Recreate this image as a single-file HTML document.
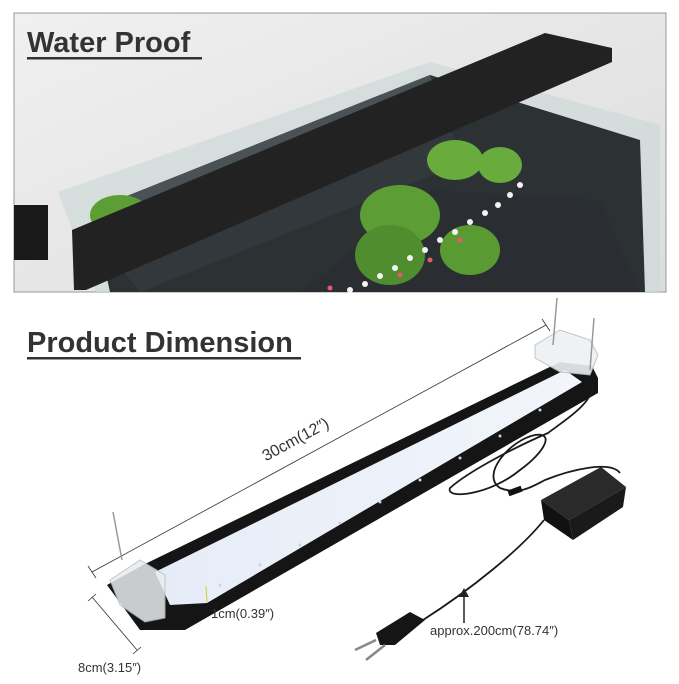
<!DOCTYPE html>
<html><head><meta charset="utf-8"><style>
html,body{margin:0;padding:0;background:#fff;}
body{width:679px;height:679px;overflow:hidden;font-family:"Liberation Sans",sans-serif;}
</style></head><body>
<svg width="679" height="679" viewBox="0 0 679 679" xmlns="http://www.w3.org/2000/svg">
<defs>
<linearGradient id="bg" x1="0" y1="0" x2="1" y2="1"><stop offset="0" stop-color="#f0f0f0"/><stop offset="1" stop-color="#dcdcdc"/></linearGradient>
<linearGradient id="panel" x1="0" y1="0" x2="1" y2="0"><stop offset="0" stop-color="#e6ecf7"/><stop offset="1" stop-color="#f2f5fb"/></linearGradient>
</defs>
<!-- top photo -->
<rect x="14" y="13" width="652" height="279" fill="url(#bg)" stroke="#999" stroke-width="1"/>
<polygon points="58,192 430,62 660,125 660,292 96,292" fill="#cfd9d8" opacity="0.7"/>
<polygon points="92,210 430,75 640,140 645,292 110,292" fill="#2c3134"/>
<polygon points="92,210 430,75 450,130 110,250" fill="#4a5256"/>
<polygon points="110,255 450,130 470,160 140,292" fill="#33383c"/>
<polygon points="300,292 430,190 600,200 640,292" fill="#2a2e33"/>
<ellipse cx="400" cy="215" rx="40" ry="30" fill="#5c9e35"/>
<ellipse cx="455" cy="160" rx="28" ry="20" fill="#6aab3d"/>
<ellipse cx="500" cy="165" rx="22" ry="18" fill="#6aab3d"/>
<ellipse cx="390" cy="255" rx="35" ry="30" fill="#4f8d2e"/>
<ellipse cx="470" cy="250" rx="30" ry="25" fill="#5a9a32"/>
<ellipse cx="120" cy="215" rx="30" ry="20" fill="#5c9e35"/>
<g fill="#f4f4f4">
<circle cx="520" cy="185" r="3"/><circle cx="510" cy="195" r="3"/><circle cx="498" cy="205" r="3"/><circle cx="485" cy="213" r="3"/><circle cx="470" cy="222" r="3"/><circle cx="455" cy="232" r="3"/><circle cx="440" cy="240" r="3"/><circle cx="425" cy="250" r="3"/><circle cx="410" cy="258" r="3"/><circle cx="395" cy="268" r="3"/><circle cx="380" cy="276" r="3"/><circle cx="365" cy="284" r="3"/><circle cx="350" cy="290" r="3"/>
</g>
<g fill="#e25a6a"><circle cx="460" cy="240" r="2.5"/><circle cx="430" cy="260" r="2.5"/><circle cx="400" cy="275" r="2.5"/><circle cx="330" cy="288" r="2.5"/></g>
<polygon points="72,230 545,33 612,48 612,62 86,290 74,290" fill="#222"/>
<rect x="14" y="205" width="34" height="55" fill="#1a1a1a"/>
<text x="27" y="52" font-size="29" font-weight="bold" fill="#333">Water Proof</text>
<rect x="27" y="57" width="175" height="2.5" fill="#333"/>

<!-- bottom -->
<text x="27" y="352" font-size="29" font-weight="bold" fill="#333">Product Dimension</text>
<rect x="27" y="357" width="274" height="2.5" fill="#333"/>

<line x1="92" y1="572" x2="546" y2="325" stroke="#333" stroke-width="0.8"/>
<line x1="88" y1="566" x2="96" y2="578" stroke="#333" stroke-width="0.8"/>
<line x1="542" y1="319" x2="550" y2="331" stroke="#333" stroke-width="0.8"/>
<text x="298" y="444" font-size="16" fill="#333" text-anchor="middle" transform="rotate(-28.5 298 444)">30cm(12″)</text>

<!-- bar -->
<polygon points="107,585 145,564 560,362 592,366 598,378 598,393 185,630 140,630" fill="#151515"/>
<polygon points="155,572 565,370 582,382 207,603 170,605" fill="url(#panel)"/>
<g fill="#c9d3e2">
<circle cx="220" cy="585" r="1.5"/><circle cx="260" cy="565" r="1.5"/><circle cx="300" cy="545" r="1.5"/><circle cx="340" cy="523" r="1.5"/><circle cx="380" cy="502" r="1.5"/><circle cx="420" cy="480" r="1.5"/><circle cx="460" cy="458" r="1.5"/><circle cx="500" cy="436" r="1.5"/><circle cx="540" cy="410" r="1.5"/>
</g>
<line x1="206" y1="586" x2="207" y2="602" stroke="#d8d030" stroke-width="1"/>
<!-- clips -->
<polygon points="110,580 140,560 165,575 165,618 145,622 120,605" fill="#e8ecef" stroke="#b8bec4" stroke-width="1" opacity="0.85"/>
<polygon points="535,345 560,330 590,340 598,355 590,375 560,372 535,358" fill="#eef1f3" stroke="#b8bec4" stroke-width="1" opacity="0.9"/>
<line x1="113" y1="512" x2="122" y2="560" stroke="#999" stroke-width="1.5"/>
<line x1="557" y1="298" x2="553" y2="345" stroke="#999" stroke-width="1.5"/>
<line x1="594" y1="318" x2="590" y2="370" stroke="#999" stroke-width="1.5"/>
<!-- cable -->
<path d="M593,387 C590,405 565,420 548,433 C520,445 470,470 450,488 C445,500 490,495 520,470 C545,452 555,432 535,435 C510,440 480,475 500,488 C520,496 535,485 545,480 C570,470 610,460 620,473" fill="none" stroke="#1a1a1a" stroke-width="1.8"/>
<rect x="508" y="488" width="14" height="6" fill="#111" transform="rotate(-20 515 491)"/>
<!-- adapter -->
<polygon points="541,500 601,467 626,487 569,520" fill="#2a2a2a"/>
<polygon points="541,500 569,520 573,540 544,520" fill="#111"/>
<polygon points="569,520 626,487 623,507 573,540" fill="#1a1a1a"/>
<path d="M544,520 C520,550 470,590 423,620" fill="none" stroke="#1a1a1a" stroke-width="1.8"/>
<polygon points="376,633 410,612 425,620 395,645 380,645" fill="#151515"/>
<line x1="376" y1="640" x2="355" y2="650" stroke="#888" stroke-width="2.5"/>
<line x1="385" y1="645" x2="366" y2="660" stroke="#888" stroke-width="2.5"/>
<line x1="464" y1="623" x2="464" y2="594" stroke="#222" stroke-width="1.5"/>
<polygon points="459,597 464,588 469,597" fill="#222"/>
<text x="430" y="635" font-size="13" fill="#333">approx.200cm(78.74″)</text>
<text x="211" y="618" font-size="13" fill="#333">1cm(0.39″)</text>
<line x1="92" y1="597" x2="137" y2="650" stroke="#333" stroke-width="0.8"/>
<line x1="88" y1="601" x2="96" y2="594" stroke="#333" stroke-width="0.8"/>
<line x1="133" y1="654" x2="141" y2="647" stroke="#333" stroke-width="0.8"/>
<text x="78" y="672" font-size="13" fill="#333">8cm(3.15″)</text>
</svg>
</body></html>
